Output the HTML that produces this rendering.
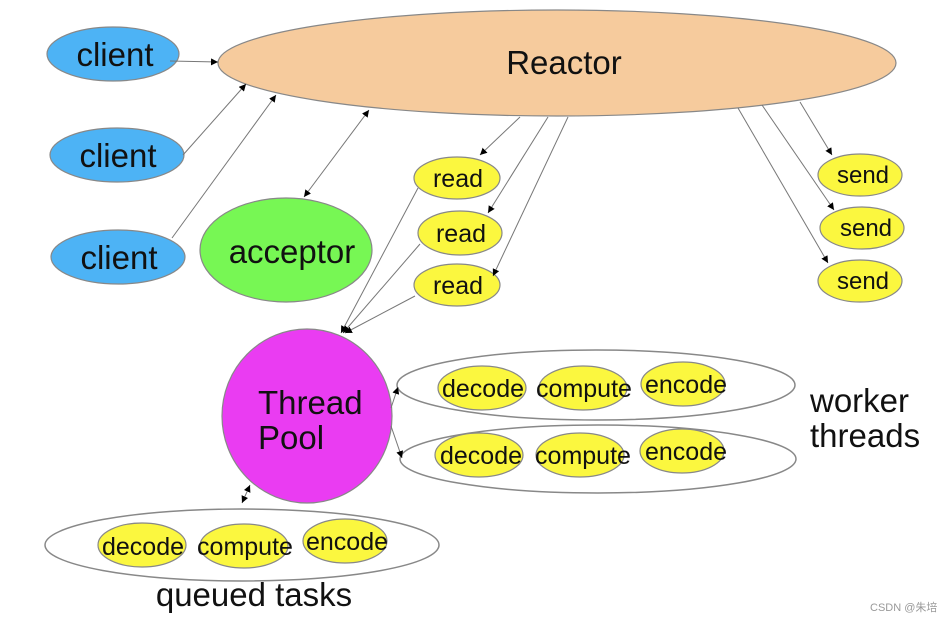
<!DOCTYPE html>
<html><head><meta charset="utf-8"><style>html,body{margin:0;padding:0;background:#fff}svg{display:block}</style></head>
<body>
<svg width="952" height="622" viewBox="0 0 952 622" xmlns="http://www.w3.org/2000/svg" font-family="'Liberation Sans', 'DejaVu Sans', sans-serif">
<defs>
<marker id="a" viewBox="0 0 10 10" refX="10" refY="5" markerWidth="7" markerHeight="7" orient="auto-start-reverse"><path d="M0,0 L10,5 L0,10 z" fill="#000"/></marker>
</defs>
<g stroke="#888" stroke-width="1.2">
<ellipse cx="557" cy="63" rx="339" ry="53" fill="#f6cb9d"/>
<ellipse cx="113" cy="54" rx="66" ry="27" fill="#4db3f5"/>
<ellipse cx="117" cy="155" rx="67" ry="27" fill="#4db3f5"/>
<ellipse cx="118" cy="257" rx="67" ry="27" fill="#4db3f5"/>
<ellipse cx="286" cy="250" rx="86" ry="52" fill="#77f754"/>
<ellipse cx="457" cy="178" rx="43" ry="21" fill="#fbf73f"/>
<ellipse cx="460" cy="233" rx="42" ry="22" fill="#fbf73f"/>
<ellipse cx="457" cy="285" rx="43" ry="21" fill="#fbf73f"/>
<ellipse cx="860" cy="175" rx="42" ry="21" fill="#fbf73f"/>
<ellipse cx="862" cy="228" rx="42" ry="21" fill="#fbf73f"/>
<ellipse cx="860" cy="281" rx="42" ry="21" fill="#fbf73f"/>
<ellipse cx="307" cy="416" rx="85" ry="87" fill="#ea3cf2"/>
<ellipse cx="596" cy="385" rx="199" ry="35" fill="none" stroke-width="1.5"/>
<ellipse cx="598" cy="459" rx="198" ry="34" fill="none" stroke-width="1.5"/>
<ellipse cx="242" cy="545" rx="197" ry="36" fill="none" stroke-width="1.5"/>
<g fill="#fbf73f">
<ellipse cx="482" cy="388" rx="44" ry="22"/><ellipse cx="583" cy="388" rx="44" ry="22"/><ellipse cx="683" cy="384" rx="42" ry="22"/>
<ellipse cx="479" cy="455" rx="44" ry="22"/><ellipse cx="580" cy="455" rx="44" ry="22"/><ellipse cx="682" cy="451" rx="42" ry="22"/>
<ellipse cx="142" cy="545" rx="44" ry="22"/><ellipse cx="244" cy="546" rx="44" ry="22"/><ellipse cx="345" cy="541" rx="42" ry="22"/>
</g>
</g>
<g stroke="#777" stroke-width="1" fill="none">
<line x1="170" y1="61" x2="218" y2="62" marker-end="url(#a)"/>
<line x1="183" y1="155" x2="246" y2="84" marker-end="url(#a)"/>
<line x1="172" y1="238" x2="276" y2="95" marker-end="url(#a)"/>
<line x1="304" y1="197" x2="369" y2="110" marker-start="url(#a)" marker-end="url(#a)"/>
<line x1="520" y1="117" x2="480" y2="155" marker-end="url(#a)"/>
<line x1="548" y1="117" x2="488" y2="213" marker-end="url(#a)"/>
<line x1="568" y1="117" x2="493" y2="276" marker-end="url(#a)"/>
<line x1="800" y1="102" x2="832" y2="155" marker-end="url(#a)"/>
<line x1="762" y1="105" x2="834" y2="210" marker-end="url(#a)"/>
<line x1="738" y1="108" x2="828" y2="263" marker-end="url(#a)"/>
<line x1="418" y1="188" x2="341" y2="333" marker-end="url(#a)"/>
<line x1="420" y1="244" x2="343" y2="333" marker-end="url(#a)"/>
<line x1="415" y1="296" x2="345" y2="333" marker-end="url(#a)"/>
<line x1="391" y1="408" x2="398" y2="387" marker-end="url(#a)"/>
<line x1="391" y1="426" x2="402" y2="458" marker-end="url(#a)"/>
<line x1="250" y1="485" x2="242" y2="503" marker-start="url(#a)" marker-end="url(#a)"/>
</g>
<g fill="#111" text-anchor="middle">
<text x="564" y="74" font-size="33">Reactor</text>
<text x="115" y="66" font-size="33">client</text>
<text x="118" y="167" font-size="33">client</text>
<text x="119" y="269" font-size="33">client</text>
<text x="292" y="263" font-size="33">acceptor</text>
<text x="458" y="187" font-size="25">read</text>
<text x="461" y="242" font-size="25">read</text>
<text x="458" y="294" font-size="25">read</text>
<text x="863" y="183" font-size="24">send</text>
<text x="866" y="236" font-size="24">send</text>
<text x="863" y="289" font-size="24">send</text>
<text x="483" y="397" font-size="25">decode</text>
<text x="584" y="397" font-size="25">compute</text>
<text x="686" y="393" font-size="25">encode</text>
<text x="481" y="464" font-size="25">decode</text>
<text x="583" y="464" font-size="25">compute</text>
<text x="686" y="460" font-size="25">encode</text>
<text x="143" y="555" font-size="25">decode</text>
<text x="245" y="555" font-size="25">compute</text>
<text x="347" y="550" font-size="25">encode</text>
<text x="254" y="606" font-size="33">queued tasks</text>
</g>
<g fill="#111" font-size="33">
<text x="258" y="414">Thread</text>
<text x="258" y="449">Pool</text>
<text x="810" y="412">worker</text>
<text x="810" y="447">threads</text>
</g>
<text x="870" y="611" font-size="11" fill="#999" font-family="'Liberation Sans','Noto Sans CJK SC',sans-serif">CSDN @朱培</text>
</svg>
</body></html>
